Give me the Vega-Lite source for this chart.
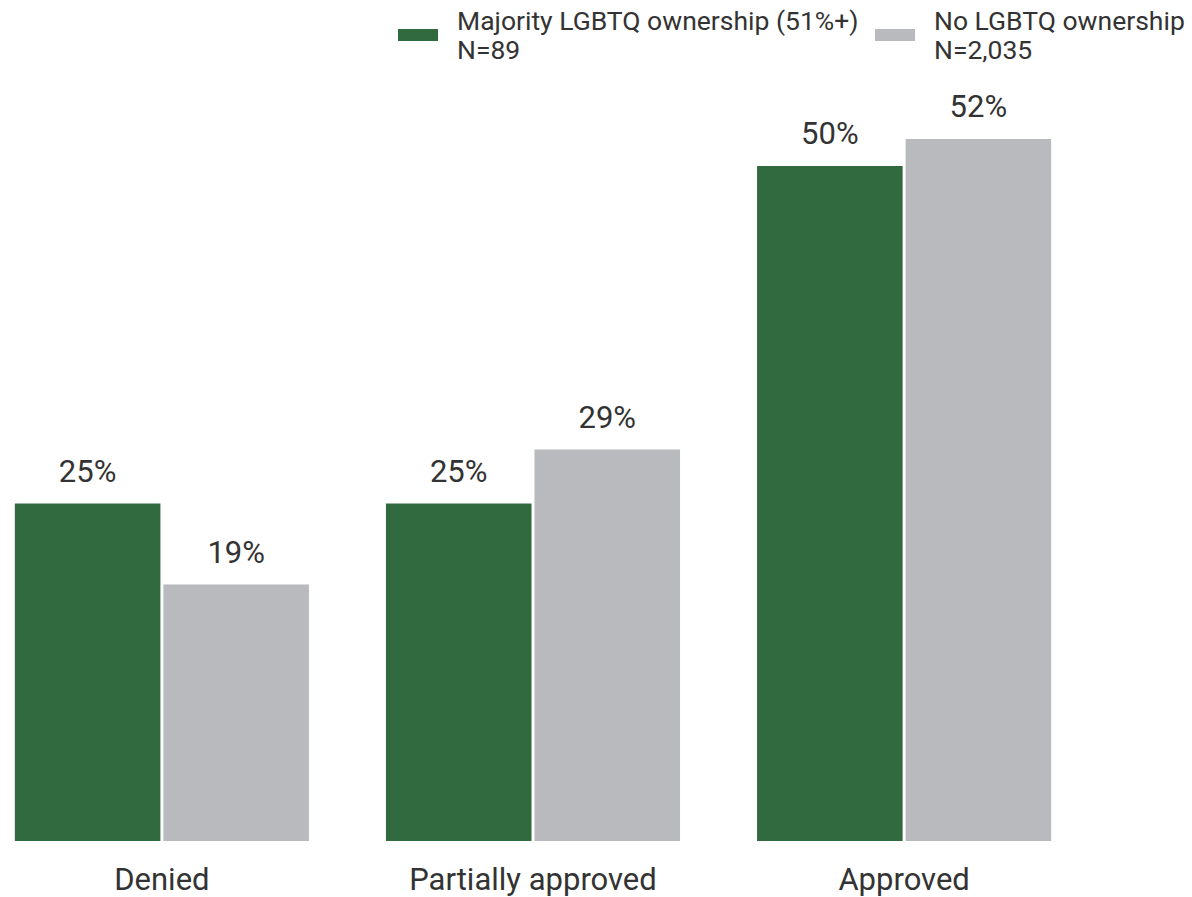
{
  "$schema": "https://vega.github.io/schema/vega-lite/v6.json",
  "width": 1066,
  "height": 810,
  "autosize": "none",
  "padding": {"left": 0, "top": 31, "right": 126, "bottom": 56},
  "background": "white",
  "config": {"view": {"stroke": null}, "font": "Roboto"},
  "data": {
    "values": [
      {"outcome": "Denied", "group": "Majority LGBTQ ownership (51%+)", "pct": 0.25},
      {"outcome": "Denied", "group": "No LGBTQ ownership", "pct": 0.19},
      {"outcome": "Partially approved", "group": "Majority LGBTQ ownership (51%+)", "pct": 0.25},
      {"outcome": "Partially approved", "group": "No LGBTQ ownership", "pct": 0.29},
      {"outcome": "Approved", "group": "Majority LGBTQ ownership (51%+)", "pct": 0.50},
      {"outcome": "Approved", "group": "No LGBTQ ownership", "pct": 0.52}
    ]
  },
  "encoding": {
    "x": {
      "field": "outcome",
      "type": "nominal",
      "sort": ["Denied", "Partially approved", "Approved"],
      "scale": {"paddingInner": 0.2075, "paddingOuter": 0.04},
      "axis": {
        "title": null,
        "domain": false,
        "ticks": false,
        "labelAngle": 0,
        "labelFontSize": 31,
        "labelColor": "#333333",
        "labelPadding": 24,
        "labelLimit": 600,
        "labelFont": "Roboto"
      }
    },
    "xOffset": {
      "field": "group",
      "type": "nominal",
      "sort": ["Majority LGBTQ ownership (51%+)", "No LGBTQ ownership"],
      "scale": {"paddingInner": 0.02}
    },
    "y": {
      "field": "pct",
      "type": "quantitative",
      "scale": {"domain": [0, 0.6]},
      "axis": null
    }
  },
  "layer": [
    {
      "mark": {"type": "bar"},
      "encoding": {
        "color": {
          "field": "group",
          "type": "nominal",
          "sort": ["Majority LGBTQ ownership (51%+)", "No LGBTQ ownership"],
          "scale": {"range": ["#316a3f", "#b9babe"]},
          "legend": {
            "orient": "none",
            "legendX": 398,
            "legendY": -29,
            "direction": "horizontal",
            "title": null,
            "padding": 0,
            "labelFont": "Roboto",
            "labelFontSize": 26.5,
            "labelColor": "#333333",
            "labelOffset": 19,
            "labelLimit": 600,
            "columnPadding": 16,
            "symbolType": "M-1,0.35H1V0.95H-1Z",
            "symbolSize": 1600,
            "symbolStrokeWidth": 0,
            "symbolOpacity": 1,
            "labelExpr": "datum.label == 'No LGBTQ ownership' ? ['No LGBTQ ownership', 'N=2,035'] : [datum.label, 'N=89']"
          }
        }
      }
    },
    {
      "mark": {"type": "text", "dy": -22, "baseline": "alphabetic", "fontSize": 31, "color": "#333333", "font": "Roboto"},
      "encoding": {
        "text": {"field": "pct", "type": "quantitative", "format": ".0%"}
      }
    }
  ]
}
